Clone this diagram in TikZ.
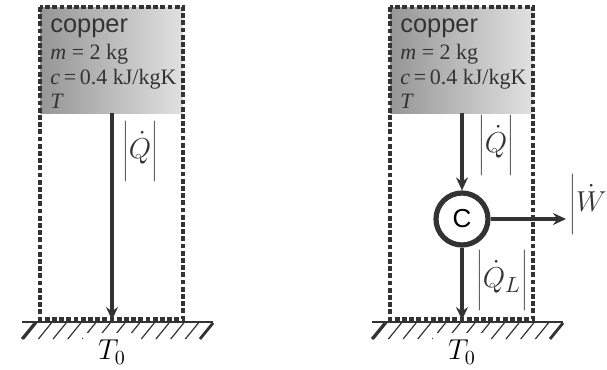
\documentclass[tikz,border=0pt]{standalone}
\usepackage{fontspec}
\setmainfont{Liberation Serif}
\newfontfamily\sansf{Liberation Sans}
\usetikzlibrary{arrows.meta}
\definecolor{cline}{RGB}{51,51,51}
\definecolor{cdark}{RGB}{150,150,150}
\definecolor{clight}{RGB}{225,225,225}
\newcommand\magn[1]{\left|\rule[-10pt]{0pt}{26pt}#1\right|}

\begin{document}
\begin{tikzpicture}[x=0.5pt,y=-0.5pt,>={Stealth[length=6.5pt,width=6pt,inset=2.2pt]},
   sys/.style={draw=cline,line width=1.7pt,dash pattern=on 2.4pt off 1.2pt},
   flow/.style={draw=cline,line width=1.7pt,->},
   hatch/.style={draw=cline,line width=0.6pt},
   prop/.style={anchor=base west,inner sep=0pt,text=cline,font=\fontsize{11}{12}\selectfont},
   lbl/.style={inner sep=0pt,text=cline,font=\fontsize{15}{17}\selectfont},
   engine/.style={circle,draw=cline,line width=2.6pt,fill=white,minimum size=26pt,inner sep=0pt,
     font=\fontsize{13}{15}\sansf}]
  \useasboundingbox (0,0) rectangle (607,370);
  % the two copper systems with their ground
  \foreach \s/\n in {0/L,350/R} {
    \begin{scope}[xshift=\s*0.5pt]
      \shade[left color=cdark,right color=clight] (40,7) rectangle (183,113);
      \node[prop,font=\fontsize{12.7}{14}\sansf] (cu\n) at (50,32) {copper};
      \node[prop] (m\n) at (50,59) {\textit{m} = 2 kg};
      \node[prop] (c\n) at (50,84) {\textit{c}\,=\,0.4 kJ/kgK};
      \node[prop] (T\n) at (50,108) {\textit{T}};
      \coordinate (top\n) at (112,113);
      \coordinate (gnd\n) at (112,320);
      % ground
      \foreach \k in {1,...,12}
        \draw[hatch] (22+14.7*\k,323) -- ++(-13,16);
      \draw[cline,line width=1.4pt] (22,339) -- (35,323) (213,323) -- (200,339);
      \draw[cline,line width=1.4pt] (22,322) -- (213,322);
      \node[fill=white,inner sep=0pt,minimum width=29pt,minimum height=19pt,
            font=\fontsize{14.5}{16}\selectfont] (T0\n) at (112,352) {$T_0$};
    \end{scope}
  }
  % left: direct heat transfer
  \draw[flow] (topL) -- (gndL);
  \node[lbl] (QL) at (140,151) {$\magn{\dot{Q}}$};
  % right: heat engine between copper and ground
  \node[engine] (eng) at (462,219) {C};
  \coordinate (wout) at (566,219);
  \draw[flow] (topR) -- (eng);
  \draw[flow] (eng) -- (gndR);
  \draw[flow] (eng) -- (wout);
  \node[lbl] (QR) at (496,145) {$\magn{\dot{Q}}$};
  \node[lbl] (QLo) at (502,280) {$\magn{\dot{Q}_L}$};
  \node[lbl,anchor=west] (W) at (569,204) {$\left|\rule[-10pt]{0pt}{26pt}\dot{W}\right.$};
  % system boundaries on top
  \draw[sys] (40,7) rectangle (183,319);
  \draw[sys] (390,7) rectangle (533,319);
\end{tikzpicture}
\end{document}
